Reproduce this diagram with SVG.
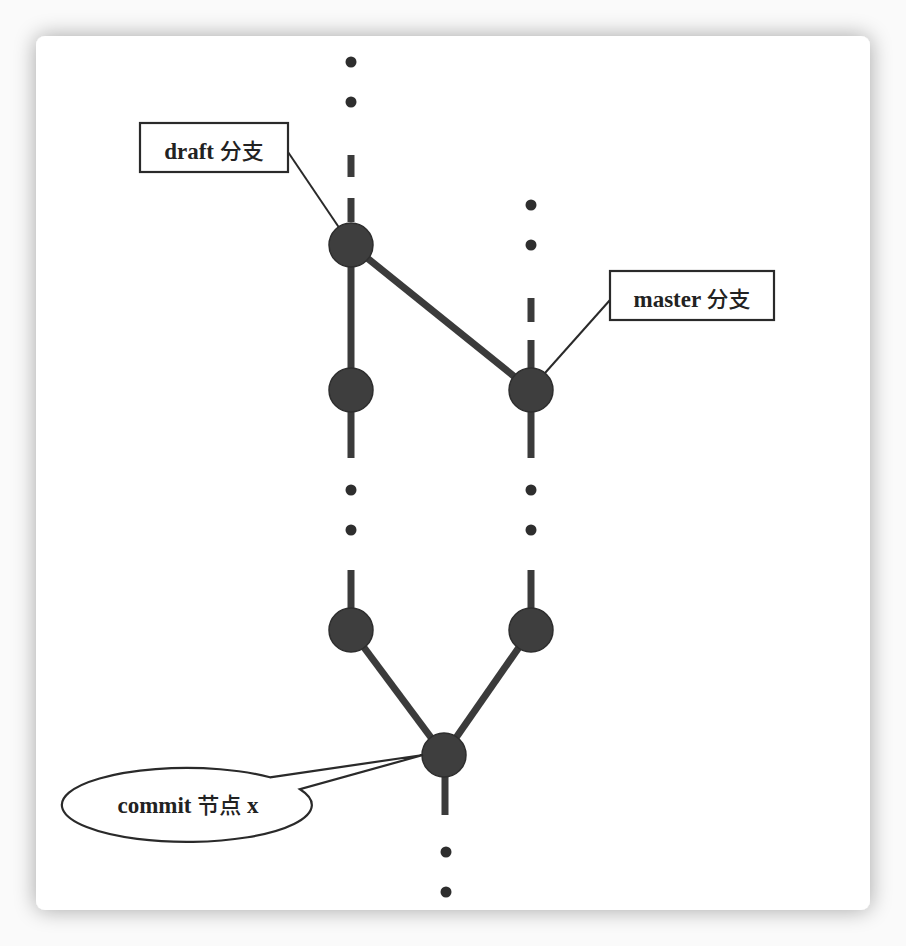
<svg xmlns="http://www.w3.org/2000/svg" width="906" height="946" viewBox="0 0 906 946">
<defs>
<filter id="sh" x="-10%" y="-10%" width="120%" height="120%">
<feGaussianBlur in="SourceAlpha" stdDeviation="11"/>
<feComponentTransfer><feFuncA type="linear" slope="0.35"/></feComponentTransfer>
<feMerge><feMergeNode/><feMergeNode in="SourceGraphic"/></feMerge>
</filter>
</defs>
<style>
.edge{stroke:#3b3b3b;stroke-width:7;fill:none}
.dot{fill:#2e2e2e}
.node{fill:#3e3e3e;stroke:#2e2e2e;stroke-width:1.5}
.lbl{fill:#fff;stroke:#2a2a2a;stroke-width:2.2}
.call{stroke:#2a2a2a;stroke-width:2;fill:none}
.t{font-family:"Liberation Serif","Noto Sans CJK SC",serif;font-weight:bold;font-size:23px;fill:#222;text-anchor:middle}
.cjk{font-family:"Noto Sans CJK SC",sans-serif;font-weight:500;font-size:22px}
</style>
<rect width="906" height="946" fill="#fafafa"/>
<rect x="36" y="36" width="834" height="874" rx="9" fill="#fff" filter="url(#sh)"/>

<g id="connectors">
<!-- left branch -->
<circle class="dot" cx="351" cy="62" r="5.5"/>
<circle class="dot" cx="351" cy="102" r="5.5"/>
<line class="edge" x1="351" y1="155" x2="351" y2="177"/>
<line class="edge" x1="351" y1="198" x2="351" y2="222"/>
<line class="edge" x1="351" y1="245" x2="351" y2="458"/>
<circle class="dot" cx="351" cy="490" r="5.5"/>
<circle class="dot" cx="351" cy="530" r="5.5"/>
<line class="edge" x1="351" y1="570" x2="351" y2="630"/>
<!-- right branch -->
<circle class="dot" cx="531" cy="205" r="5.5"/>
<circle class="dot" cx="531" cy="245" r="5.5"/>
<line class="edge" x1="531" y1="298" x2="531" y2="322"/>
<line class="edge" x1="531" y1="340" x2="531" y2="368"/>
<line class="edge" x1="531" y1="390" x2="531" y2="458"/>
<circle class="dot" cx="531" cy="490" r="5.5"/>
<circle class="dot" cx="531" cy="530" r="5.5"/>
<line class="edge" x1="531" y1="570" x2="531" y2="630"/>
<!-- diagonal -->
<line class="edge" x1="351" y1="245" x2="531" y2="390"/>
<!-- merge -->
<line class="edge" x1="351" y1="630" x2="444" y2="755"/>
<line class="edge" x1="531" y1="630" x2="444" y2="755"/>
<line class="edge" x1="445" y1="755" x2="445" y2="815"/>
<circle class="dot" cx="446" cy="852" r="5.5"/>
<circle class="dot" cx="446" cy="892" r="5.5"/>
<!-- callout lines -->
<line class="call" x1="288" y1="152" x2="340" y2="229"/>
<line class="call" x1="610" y1="300" x2="545" y2="373"/>
</g>

<g id="n-draft1"><circle class="node" cx="351" cy="245" r="22"/></g>
<g id="n-draft2"><circle class="node" cx="351" cy="390" r="22"/></g>
<g id="n-draft3"><circle class="node" cx="351" cy="630" r="22"/></g>
<g id="n-master1"><circle class="node" cx="531" cy="390" r="22"/></g>
<g id="n-master2"><circle class="node" cx="531" cy="630" r="22"/></g>
<g id="n-commitx"><circle class="node" cx="444" cy="755" r="22"/></g>

<g id="label-draft">
<rect class="lbl" x="140" y="123" width="148" height="49"/>
<text class="t" x="214" y="159">draft <tspan class="cjk">分支</tspan></text>
</g>
<g id="label-master">
<rect class="lbl" x="610" y="271" width="164" height="49"/>
<text class="t" x="692" y="307">master <tspan class="cjk">分支</tspan></text>
</g>
<g id="label-commit">
<path class="lbl" d="M270,777.3 L423,755 L300,789.2 A125,37 0 1 1 270,777.3 Z"/>
<text class="t" x="188" y="813">commit <tspan class="cjk">节点</tspan> x</text>
</g>
</svg>
